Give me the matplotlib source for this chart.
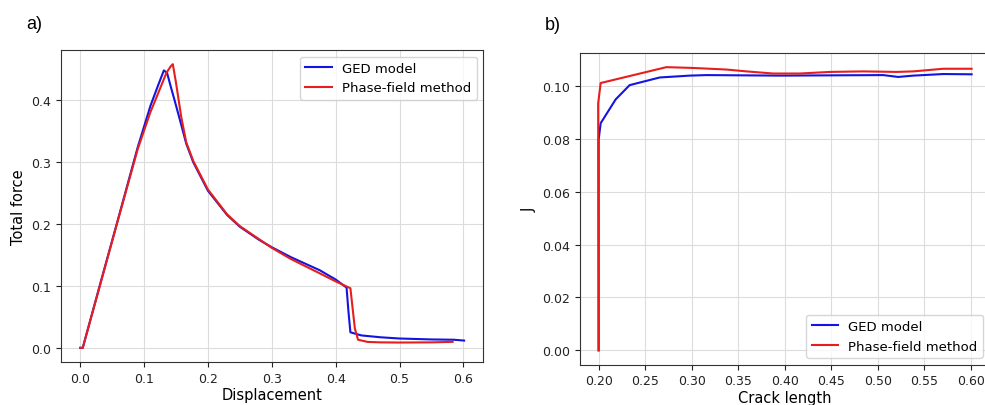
import numpy as np
import matplotlib
matplotlib.use("Agg")
import matplotlib.pyplot as plt

#------------------------------------------------------------------
# a) force-displacement curves (values read off the reference)
ged_disp = [0.0, 0.004, 0.03, 0.06, 0.09, 0.11, 0.122, 0.131, 0.136, 0.142,
            0.148, 0.158, 0.166, 0.177, 0.2, 0.23, 0.25, 0.28, 0.3, 0.33,
            0.375, 0.4, 0.417, 0.42, 0.423, 0.44, 0.47, 0.5, 0.55, 0.585, 0.601]
ged_force = [0.0, 0.0, 0.098, 0.21, 0.323, 0.39, 0.423, 0.447, 0.443, 0.42,
             0.398, 0.36, 0.329, 0.299, 0.253, 0.214, 0.195, 0.174, 0.162, 0.146,
             0.125, 0.110, 0.097, 0.058, 0.025, 0.02, 0.017, 0.015, 0.0135, 0.013, 0.0117]

pf_disp = [0.0, 0.004, 0.03, 0.06, 0.09, 0.11, 0.12, 0.135, 0.142, 0.145,
           0.15, 0.158, 0.166, 0.177, 0.2, 0.23, 0.25, 0.28, 0.3, 0.33,
           0.375, 0.4, 0.423, 0.43, 0.435, 0.45, 0.47, 0.5, 0.55, 0.583]
pf_force = [0.0, 0.0, 0.097, 0.209, 0.32, 0.38, 0.405, 0.443, 0.454, 0.457,
            0.427, 0.373, 0.331, 0.301, 0.255, 0.215, 0.196, 0.175, 0.161, 0.143,
            0.12, 0.107, 0.096, 0.031, 0.013, 0.0095, 0.0088, 0.0085, 0.0088, 0.0096]

# b) J vs crack length
ged_crack = [0.2, 0.2, 0.2022, 0.2183, 0.2333, 0.2656, 0.2978, 0.3158, 0.3946,
             0.5057, 0.5218, 0.538, 0.5703, 0.6007]
ged_j = [0.0, 0.0796, 0.0859, 0.0949, 0.1003, 0.1032, 0.1039, 0.1041, 0.1039,
         0.1041, 0.1034, 0.1039, 0.1045, 0.1044]

pf_crack = [0.2, 0.1995, 0.2022, 0.2728, 0.3014, 0.3373, 0.3588, 0.3874, 0.4161,
            0.4484, 0.4842, 0.5201, 0.538, 0.5703, 0.6007]
pf_j = [0.0, 0.0934, 0.1011, 0.1071, 0.1068, 0.1062, 0.1055, 0.1047, 0.1047,
        0.1053, 0.1055, 0.1053, 0.1055, 0.1065, 0.1065]

#------------------------------------------------------------------
plt.rcParams['font.family'] = ['DejaVu Sans']
W, H = 985, 406
fig = plt.figure(figsize=(W/100.0, H/100.0), dpi=100)

def box(l, r, t, b):
    return [l/W, 1 - b/H, (r - l)/W, (b - t)/H]

ax1 = fig.add_axes(box(61, 483.3, 51, 363))
ax2 = fig.add_axes(box(580, 989.6, 54, 365.5))

for ax in (ax1, ax2):
    ax.grid(True, color='#dcdcdc', linewidth=0.8)
    ax.set_axisbelow(True)
    ax.tick_params(labelsize=9, colors='#222222')
    for s in ax.spines.values():
        s.set_color('#333333')

ax1.plot(ged_disp, ged_force, color='#1414e0', lw=1.5, label='GED model')
ax1.plot(pf_disp, pf_force, color='#e61e1e', lw=1.5, label='Phase-field method')
ax1.set_xlabel('Displacement', fontsize=10.5, labelpad=2)
ax1.set_ylabel('Total force', fontsize=10.5)
ax1.set_xticks([0.0, 0.1, 0.2, 0.3, 0.4, 0.5, 0.6])
ax1.set_yticks([0.0, 0.1, 0.2, 0.3, 0.4])
ax1.legend(loc='upper right', fontsize=9.5)

ax2.plot(ged_crack, ged_j, color='#1414e0', lw=1.5, label='GED model')
ax2.plot(pf_crack, pf_j, color='#e61e1e', lw=1.5, label='Phase-field method')
ax2.set_xlabel('Crack length', fontsize=10.5, labelpad=2)
ax2.set_ylabel('J', fontsize=10.5)
ax2.set_xticks([0.2, 0.25, 0.3, 0.35, 0.4, 0.45, 0.5, 0.55, 0.6])
ax2.set_xticklabels(['0.20', '0.25', '0.30', '0.35', '0.40', '0.45', '0.50', '0.55', '0.60'])
ax2.set_yticks([0.0, 0.02, 0.04, 0.06, 0.08, 0.10])
ax2.set_yticklabels(['0.00', '0.02', '0.04', '0.06', '0.08', '0.10'])
ax2.set_xlim(0.18, 0.62)
ax2.legend(loc='lower right', fontsize=9.5)

fig.text(26/W, 1 - 29/H, 'a)', fontsize=13, family='Liberation Sans', va='baseline')
fig.text(545/W, 1 - 30/H, 'b)', fontsize=13, family='Liberation Sans', va='baseline')

plt.savefig('out.png', dpi=100)
plt.close()
